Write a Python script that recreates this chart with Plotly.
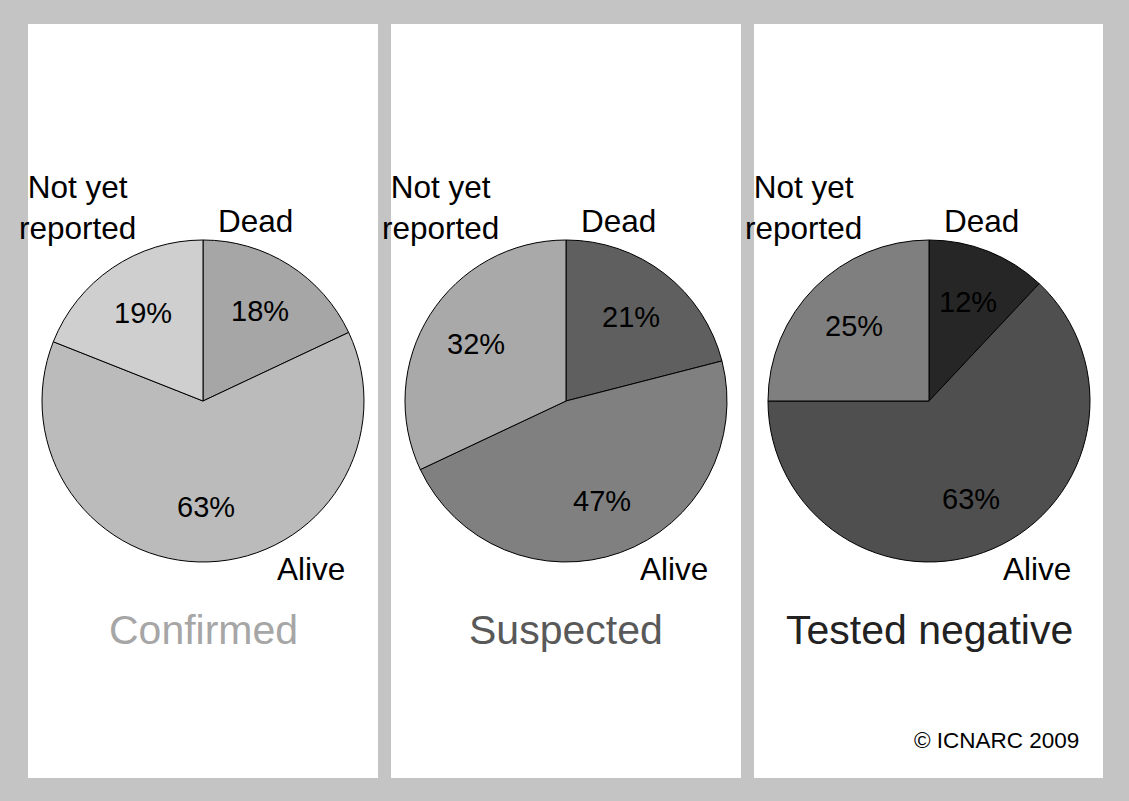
import math
import plotly.graph_objects as go

# ---- data ----
categories = ["Dead", "Alive", "Not yet reported"]
groups = ["Confirmed", "Suspected", "Tested negative"]
confirmed = [18, 63, 19]
suspected = [21, 47, 32]
tested_negative = [12, 63, 25]
footnote = "© ICNARC 2009"

# ---- styling ----
W, H = 1129, 801
FONT = "Liberation Sans, Arial, Helvetica, sans-serif"
slice_colors = [
    ["#a6a6a6", "#bbbbbb", "#cfcfcf"],
    ["#5f5f5f", "#808080", "#a9a9a9"],
    ["#262626", "#4f4f4f", "#7f7f7f"],
]
title_colors = ["#a6a6a6", "#595959", "#222222"]
centers_x = [203, 566, 929]
center_y = 401
R = 161
TEXT_R = 0.66
panels = [(28, 378), (391, 741), (754, 1103)]
panel_top, panel_bottom = 24, 778


def px(x):
    return x / W


def py(y):
    return 1 - y / H


values_list = [confirmed, suspected, tested_negative]

fig = go.Figure()
shapes = []
annotations = []
for i, (vals, grp) in enumerate(zip(values_list, groups)):
    cx = centers_x[i]
    fig.add_trace(go.Pie(
        labels=categories,
        values=vals,
        sort=False,
        direction="clockwise",
        rotation=0,
        textinfo="none",
        marker=dict(colors=slice_colors[i], line=dict(color="black", width=1)),
        domain=dict(x=[px(cx - R), px(cx + R)], y=[py(center_y + R), py(center_y - R)]),
        showlegend=False,
        hoverinfo="label+percent",
        name=grp,
    ))
    # percentage labels placed along each slice's mid-angle
    total = sum(vals)
    cum = 0
    for v in vals:
        mid = (cum + v / 2) / total * 2 * math.pi
        cum += v
        tx = cx + TEXT_R * R * math.sin(mid)
        ty = center_y - TEXT_R * R * math.cos(mid)
        annotations.append(dict(xref="paper", yref="paper", showarrow=False,
                                text=f"{round(v / total * 100)}%", x=px(tx), y=py(ty),
                                xanchor="center", yanchor="middle",
                                font=dict(family=FONT, size=29, color="black")))
    x0, x1 = panels[i]
    shapes.append(dict(type="rect", xref="paper", yref="paper", layer="below",
                       x0=px(x0), x1=px(x1), y0=py(panel_bottom), y1=py(panel_top),
                       fillcolor="white", line=dict(width=0)))
    lab = dict(xref="paper", yref="paper", showarrow=False,
               font=dict(family=FONT, size=31.5, color="black"),
               xanchor="center", yanchor="middle", align="center")
    annotations.append(dict(lab, text=categories[0], x=px(cx + 52), y=py(221)))
    annotations.append(dict(lab, text=categories[1], x=px(cx + 108), y=py(569)))
    words = categories[2].split(" ")
    annotations.append(dict(lab, text=" ".join(words[:2]) + "<br>" + words[2],
                            x=px(cx - 126), y=py(208)))
    annotations.append(dict(xref="paper", yref="paper", showarrow=False,
                            text=grp, x=px(cx), y=py(630),
                            xanchor="center", yanchor="middle",
                            font=dict(family=FONT, size=41, color=title_colors[i])))

annotations.append(dict(xref="paper", yref="paper", showarrow=False,
                        text=footnote, x=px(1081), y=py(740),
                        xanchor="right", yanchor="middle",
                        font=dict(family=FONT, size=22.5, color="black")))

fig.update_layout(
    width=W, height=H,
    margin=dict(l=0, r=0, t=0, b=0),
    paper_bgcolor="#c4c4c4",
    plot_bgcolor="#c4c4c4",
    shapes=shapes,
    annotations=annotations,
    font=dict(family=FONT),
)

fig.write_html(
    "out.html",
    config={"displayModeBar": False},
    post_script="document.body.style.margin='0';document.body.style.background='#c4c4c4';",
)
